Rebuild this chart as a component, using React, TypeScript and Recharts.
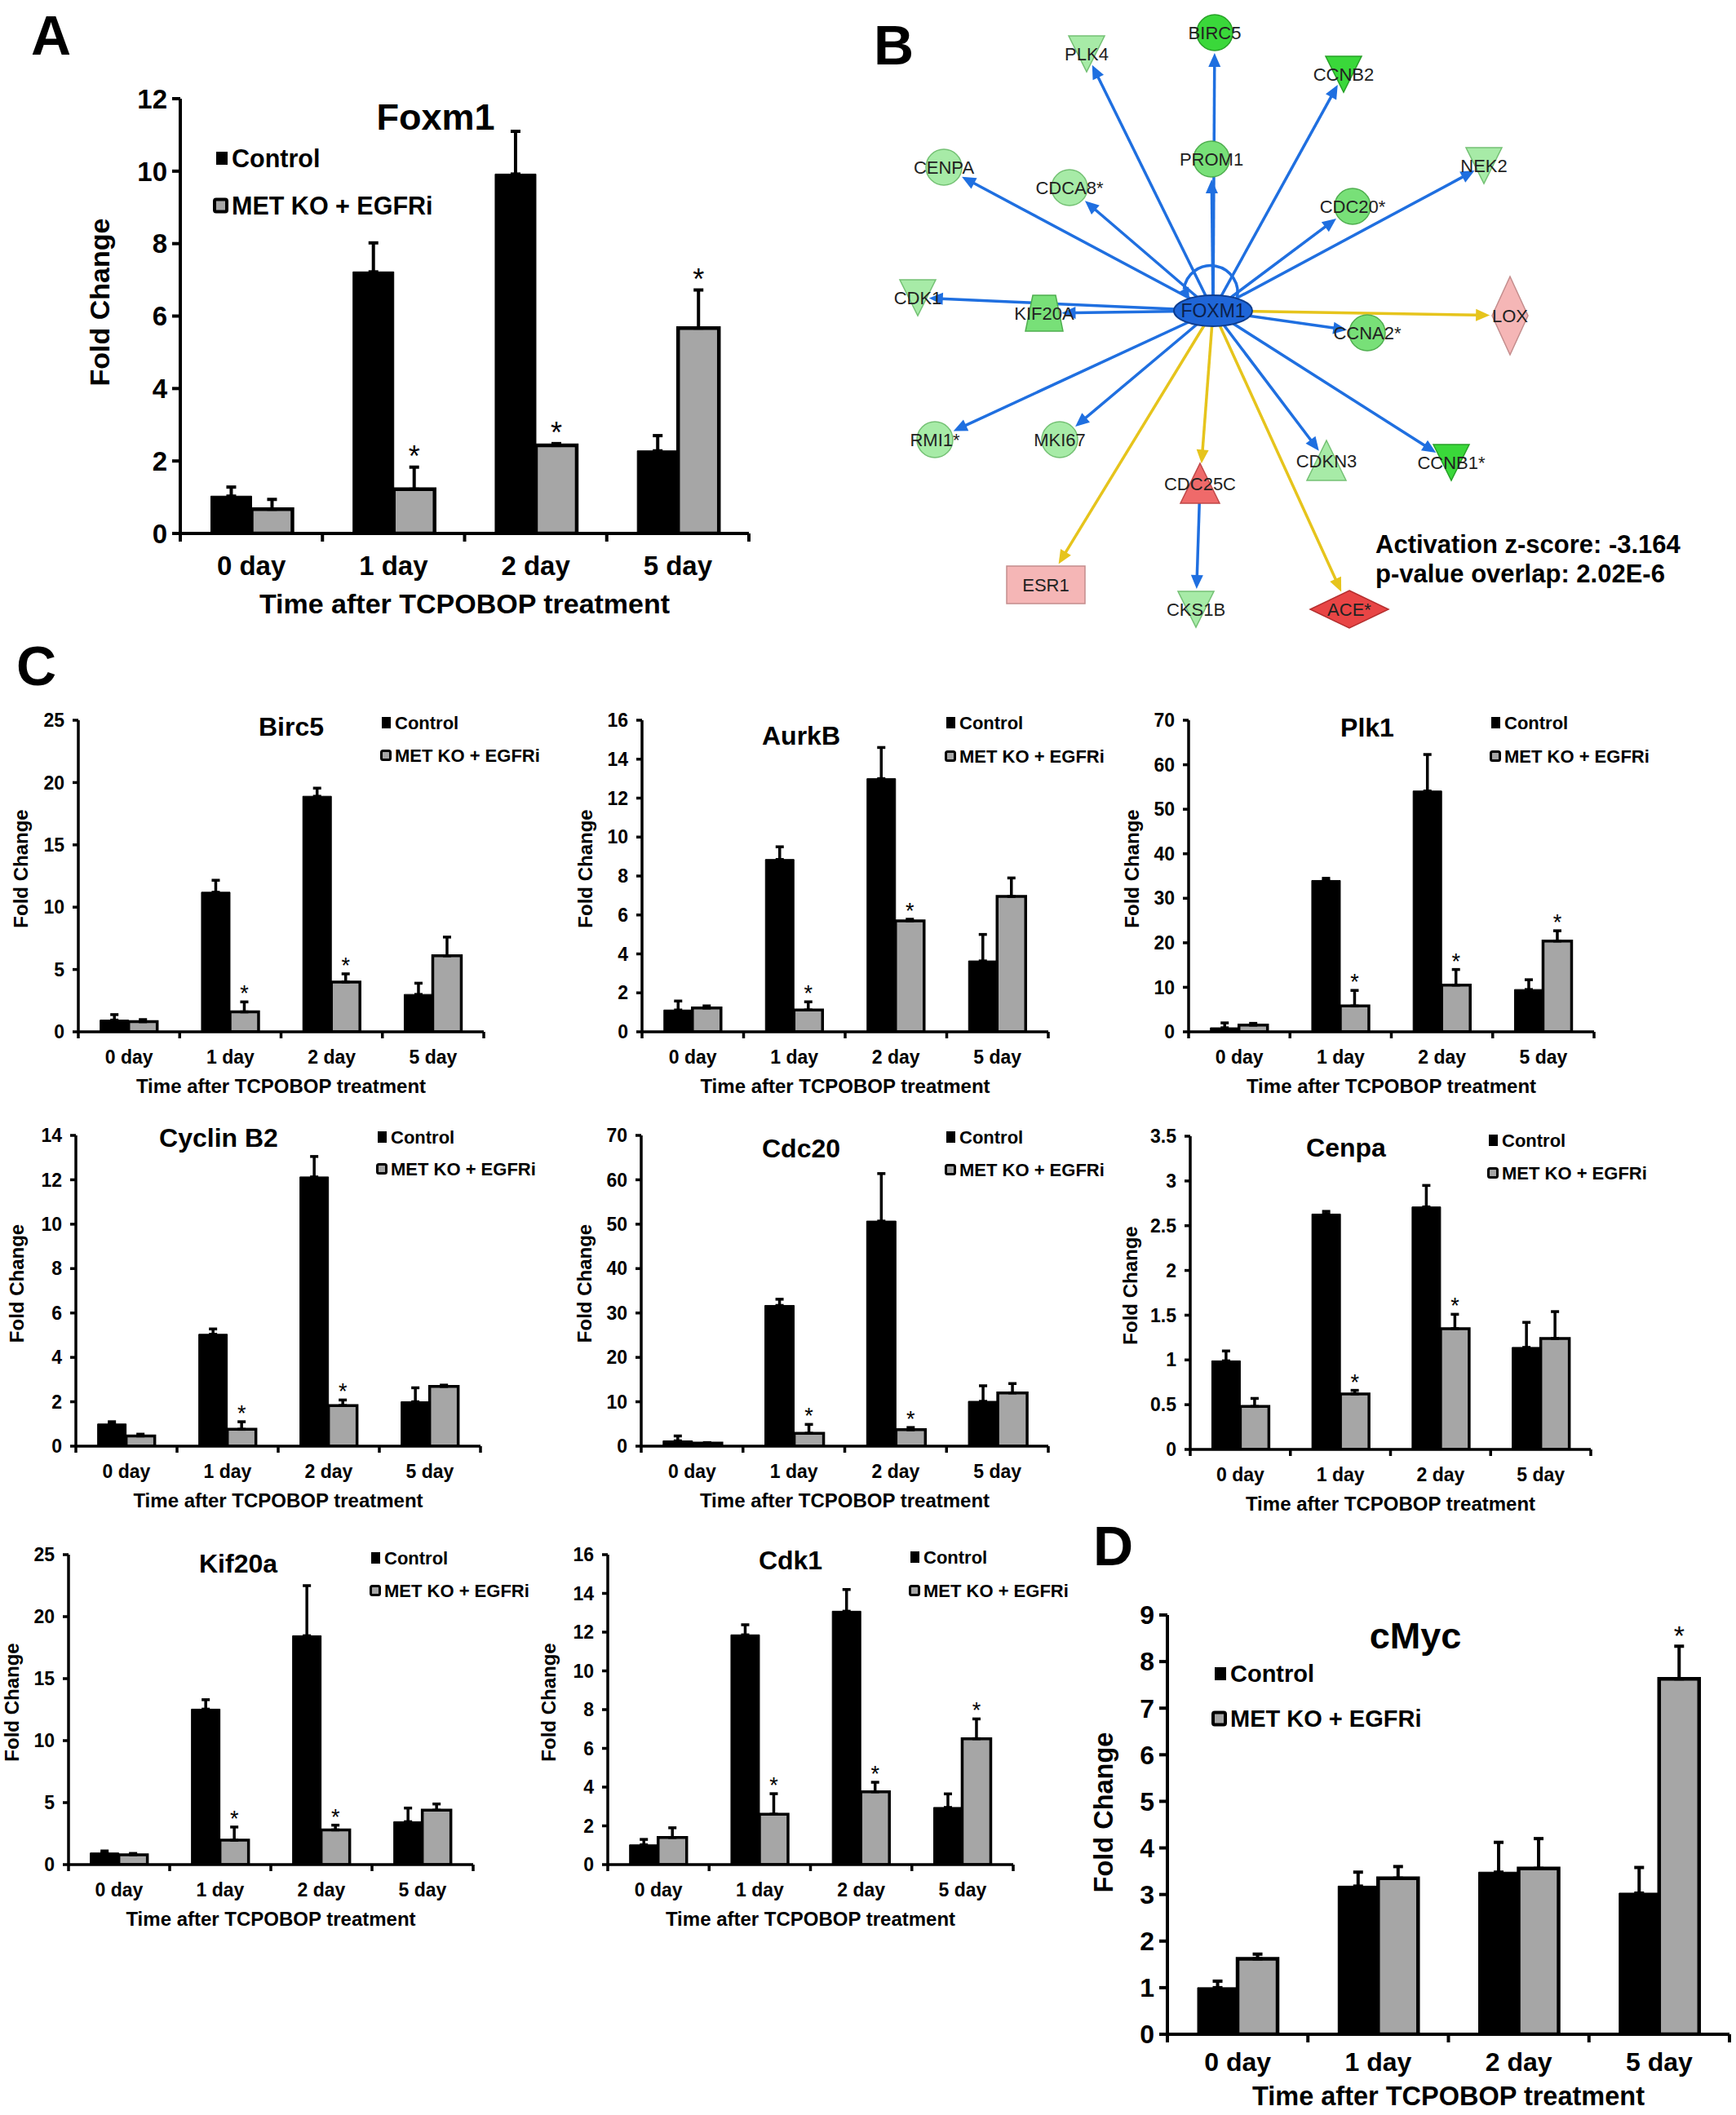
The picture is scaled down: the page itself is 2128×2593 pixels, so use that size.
import React from 'react';
import { BarChart, Bar, XAxis, YAxis, ErrorBar, LabelList, ScatterChart, Scatter, ReferenceLine } from 'recharts';

const FONT = '"Liberation Sans", Arial, Helvetica, sans-serif';
const GRAY = '#a6a6a6';

const DAYS = ['0 day', '1 day', '2 day', '5 day'];
const SERIES_NAMES = ['Control', 'MET KO + EGFRi'];
const X_TITLE = 'Time after TCPOBOP treatment';
const Y_TITLE = 'Fold Change';

// ---- Panel A: Foxm1 ----
const FOXM1_CONTROL = [1.03, 7.22, 9.92, 2.28];
const FOXM1_CONTROL_SEM = [0.25, 0.8, 1.18, 0.42];
const FOXM1_MET = [0.67, 1.22, 2.43, 5.67];
const FOXM1_MET_SEM = [0.27, 0.61, 0.05, 1.05];
const FOXM1_SIG = [false, true, true, true];
const FOXM1_TICKS = [0, 2, 4, 6, 8, 10, 12];

// ---- Panel C ----
const BIRC5_CONTROL = [0.94, 11.2, 18.9, 3.0];
const BIRC5_CONTROL_SEM = [0.44, 0.96, 0.65, 0.9];
const BIRC5_MET = [0.81, 1.6, 4.0, 6.1];
const BIRC5_MET_SEM = [0.17, 0.8, 0.65, 1.5];
const BIRC5_SIG = [false, true, true, false];
const BIRC5_TICKS = [0, 5, 10, 15, 20, 25];

const AURKB_CONTROL = [1.12, 8.85, 13.0, 3.64];
const AURKB_CONTROL_SEM = [0.46, 0.65, 1.6, 1.36];
const AURKB_MET = [1.22, 1.12, 5.7, 6.95];
const AURKB_MET_SEM = [0.11, 0.42, 0.08, 0.95];
const AURKB_SIG = [false, true, true, false];
const AURKB_TICKS = [0, 2, 4, 6, 8, 10, 12, 14, 16];

const PLK1_CONTROL = [0.9, 34.0, 54.1, 9.5];
const PLK1_CONTROL_SEM = [1.1, 0.5, 8.2, 2.2];
const PLK1_MET = [1.5, 5.8, 10.5, 20.4];
const PLK1_MET_SEM = [0.4, 3.5, 3.5, 2.3];
const PLK1_SIG = [false, true, true, true];
const PLK1_TICKS = [0, 10, 20, 30, 40, 50, 60, 70];

const CCNB2_CONTROL = [1.0, 5.04, 12.13, 2.0];
const CCNB2_CONTROL_SEM = [0.1, 0.24, 0.92, 0.63];
const CCNB2_MET = [0.46, 0.76, 1.83, 2.69];
const CCNB2_MET_SEM = [0.08, 0.34, 0.25, 0.06];
const CCNB2_SIG = [false, true, true, false];
const CCNB2_TICKS = [0, 2, 4, 6, 8, 10, 12, 14];

const CDC20_CONTROL = [1.2, 31.7, 50.7, 10.1];
const CDC20_CONTROL_SEM = [1.1, 1.4, 10.7, 3.5];
const CDC20_MET = [0.7, 2.9, 3.7, 12.0];
const CDC20_MET_SEM = [0.1, 2.0, 0.5, 2.1];
const CDC20_SIG = [false, true, true, false];
const CDC20_TICKS = [0, 10, 20, 30, 40, 50, 60, 70];

const CENPA_CONTROL = [0.99, 2.63, 2.71, 1.14];
const CENPA_CONTROL_SEM = [0.11, 0.03, 0.24, 0.28];
const CENPA_MET = [0.48, 0.62, 1.35, 1.24];
const CENPA_MET_SEM = [0.09, 0.04, 0.16, 0.3];
const CENPA_SIG = [false, true, true, false];
const CENPA_TICKS = [0, 0.5, 1, 1.5, 2, 2.5, 3, 3.5];

const KIF20A_CONTROL = [0.94, 12.54, 18.46, 3.46];
const KIF20A_CONTROL_SEM = [0.16, 0.76, 4.04, 1.1];
const KIF20A_MET = [0.79, 1.97, 2.8, 4.39];
const KIF20A_MET_SEM = [0.11, 1.06, 0.38, 0.5];
const KIF20A_SIG = [false, true, true, false];
const KIF20A_TICKS = [0, 5, 10, 15, 20, 25];

const CDK1_CONTROL = [1.02, 11.86, 13.08, 2.95];
const CDK1_CONTROL_SEM = [0.28, 0.52, 1.12, 0.7];
const CDK1_MET = [1.4, 2.6, 3.76, 6.5];
const CDK1_MET_SEM = [0.5, 1.06, 0.49, 1.02];
const CDK1_SIG = [false, true, true, true];
const CDK1_TICKS = [0, 2, 4, 6, 8, 10, 12, 14, 16];

// ---- Panel D: cMyc ----
const CMYC_CONTROL = [1.0, 3.18, 3.48, 3.03];
const CMYC_CONTROL_SEM = [0.14, 0.3, 0.64, 0.55];
const CMYC_MET = [1.62, 3.35, 3.56, 7.63];
const CMYC_MET_SEM = [0.1, 0.25, 0.64, 0.7];
const CMYC_SIG = [false, false, false, true];
const CMYC_TICKS = [0, 1, 2, 3, 4, 5, 6, 7, 8, 9];

// ---- Panel B: network (layout coordinates, molecule type, expression level) ----
const NET_NODES = [
  { id: 'FOXM1', x: 429, y: 381, type: 'transcription regulator', level: 'center' },
  { id: 'BIRC5', x: 431, y: 40, type: 'other', level: 'down3' },
  { id: 'PLK4', x: 274, y: 66, type: 'kinase', level: 'down1' },
  { id: 'CCNB2', x: 589, y: 91, type: 'kinase', level: 'down3' },
  { id: 'PROM1', x: 427, y: 195, type: 'other', level: 'down2' },
  { id: 'CENPA', x: 99, y: 205, type: 'other', level: 'down1' },
  { id: 'CDCA8*', x: 253, y: 230, type: 'other', level: 'down1' },
  { id: 'CDC20*', x: 600, y: 253, type: 'other', level: 'down2' },
  { id: 'NEK2', x: 761, y: 203, type: 'kinase', level: 'down1' },
  { id: 'CDK1', x: 67, y: 365, type: 'kinase', level: 'down1' },
  { id: 'KIF20A', x: 222, y: 384, type: 'transporter', level: 'down2' },
  { id: 'CCNA2*', x: 618, y: 408, type: 'other', level: 'down2' },
  { id: 'LOX', x: 793, y: 387, type: 'enzyme', level: 'up1' },
  { id: 'RMI1*', x: 88, y: 539, type: 'other', level: 'down1' },
  { id: 'MKI67', x: 241, y: 539, type: 'other', level: 'down1' },
  { id: 'CDC25C', x: 413, y: 593, type: 'phosphatase', level: 'up2' },
  { id: 'CDKN3', x: 568, y: 565, type: 'phosphatase', level: 'down1' },
  { id: 'CCNB1*', x: 721, y: 567, type: 'kinase', level: 'down3' },
  { id: 'ESR1', x: 224, y: 717, type: 'ligand-dependent nuclear receptor', level: 'up1' },
  { id: 'CKS1B', x: 408, y: 747, type: 'kinase', level: 'down1' },
  { id: 'ACE*', x: 596, y: 747, type: 'peptidase', level: 'up3' },
];
const NET_EDGES: [string, string, string][] = [
  ['FOXM1', 'FOXM1', 'inhibition'],
  ['FOXM1', 'BIRC5', 'inhibition'],
  ['FOXM1', 'PLK4', 'inhibition'],
  ['FOXM1', 'CCNB2', 'inhibition'],
  ['FOXM1', 'PROM1', 'inhibition'],
  ['FOXM1', 'CENPA', 'inhibition'],
  ['FOXM1', 'CDCA8*', 'inhibition'],
  ['FOXM1', 'CDC20*', 'inhibition'],
  ['FOXM1', 'NEK2', 'inhibition'],
  ['FOXM1', 'CDK1', 'inhibition'],
  ['FOXM1', 'KIF20A', 'inhibition'],
  ['FOXM1', 'CCNA2*', 'inhibition'],
  ['FOXM1', 'RMI1*', 'inhibition'],
  ['FOXM1', 'MKI67', 'inhibition'],
  ['FOXM1', 'CDKN3', 'inhibition'],
  ['FOXM1', 'CCNB1*', 'inhibition'],
  ['FOXM1', 'LOX', 'inconsistent'],
  ['FOXM1', 'ESR1', 'inconsistent'],
  ['FOXM1', 'CDC25C', 'inconsistent'],
  ['FOXM1', 'ACE*', 'inconsistent'],
  ['CDC25C', 'CKS1B', 'inhibition'],
];
const NET_STATS = ['Activation z-score: -3.164', 'p-value overlap: 2.02E-6'];

// ---------------- styles ----------------
type Sizes = {
  tick: number; axisLabel: number; title: number; legend: number; star: number;
  axisStroke: number; barStroke: number; errStroke: number; errHalf: number;
  yTickLen: number; yTickGap: number; xTickLen: number; xTickBase: number; xLabelBase: number;
  ctrlW: number; ctrlH: number; metM: number; metMS: number;
};
const SIZE_A: Sizes = {
  tick: 33, axisLabel: 34, title: 45, legend: 30.5, star: 36,
  axisStroke: 4, barStroke: 4.5, errStroke: 4, errHalf: 6,
  yTickLen: 10, yTickGap: 6, xTickLen: 10, xTickBase: 51, xLabelBase: 98,
  ctrlW: 14, ctrlH: 16, metM: 19, metMS: 4,
};
const SIZE_D: Sizes = {
  tick: 32, axisLabel: 32.5, title: 45, legend: 29, star: 34,
  axisStroke: 4, barStroke: 4.5, errStroke: 4, errHalf: 6,
  yTickLen: 10, yTickGap: 6, xTickLen: 10, xTickBase: 45, xLabelBase: 87,
  ctrlW: 14, ctrlH: 16, metM: 19, metMS: 4,
};
const SIZE_C: Sizes = {
  tick: 23, axisLabel: 24, title: 32, legend: 22, star: 27,
  axisStroke: 3.5, barStroke: 3.5, errStroke: 3.5, errHalf: 5,
  yTickLen: 7, yTickGap: 10, xTickLen: 8, xTickBase: 39, xLabelBase: 75,
  ctrlW: 11, ctrlH: 14, metM: 14, metMS: 3,
};

type Layout = {
  axisX: number; topY: number; rightX: number; zeroY: number;
  titleX: number; titleY: number; legendX: number; legendY1: number; legendY2: number;
  yLabelX: number; yLabelDy: number;
};

type GeneProps = {
  title: string; ctrl: number[]; ctrlSem: number[]; met: number[]; metSem: number[];
  sig: boolean[]; ticks: number[]; L: Layout; s: Sizes;
};

function GeneChart({ title, ctrl, ctrlSem, met, metSem, sig, ticks, L, s }: GeneProps) {
  const YW = Math.round(L.axisX - L.yLabelX + 30);
  const MT = 32;
  const MR = 14;
  const XH = s.xLabelBase + 16;
  const plotW = L.rightX - L.axisX;
  const plotH = L.zeroY - L.topY;
  const W = YW + plotW + MR;
  const H = MT + plotH + XH;
  const left = L.axisX - YW;
  const top = L.topY - MT;
  const rows = DAYS.map((day, i) => ({ day, c: ctrl[i], m: met[i], cE: [0, ctrlSem[i]], mE: [0, metSem[i]] }));
  const yMax = ticks[ticks.length - 1];

  const xTick = (p: any) => {
    const x = Number(p.x);
    const y = Number(p.y);
    const off = p.payload && typeof p.payload.offset === 'number' && p.payload.offset > 0 ? p.payload.offset : plotW / 8;
    return (
      <g>
        {p.index === 0 ? (
          <line x1={x - off} x2={x - off} y1={y} y2={y + s.xTickLen} stroke="#000" strokeWidth={s.axisStroke} />
        ) : null}
        <line x1={x + off} x2={x + off} y1={y} y2={y + s.xTickLen} stroke="#000" strokeWidth={s.axisStroke} />
        <text x={x} y={y + s.xTickBase} textAnchor="middle" fontSize={s.tick} fontFamily={FONT} fontWeight={700} fill="#000">
          {p.payload ? p.payload.value : ''}
        </text>
      </g>
    );
  };

  const yLabel = () => {
    const cx = YW - (L.axisX - L.yLabelX);
    const cy = MT + plotH / 2 + L.yLabelDy;
    return (
      <text x={cx} y={cy} transform={`rotate(-90 ${cx} ${cy})`} textAnchor="middle" dominantBaseline="central"
        fontSize={s.axisLabel} fontFamily={FONT} fontWeight={700} fill="#000">{Y_TITLE}</text>
    );
  };
  const xLabel = () => (
    <text x={YW + plotW / 2} y={MT + plotH + s.xLabelBase} textAnchor="middle"
      fontSize={s.axisLabel} fontFamily={FONT} fontWeight={700} fill="#000">{X_TITLE}</text>
  );

  const star = (p: any) => {
    const vb = p.viewBox && typeof p.viewBox.x === 'number' ? p.viewBox : p;
    const i = typeof p.index === 'number' ? p.index : met.indexOf(Number(p.value));
    if (i < 0 || !sig[i]) return null;
    const h = Math.abs(Number(vb.height));
    const yTop = Math.min(Number(vb.y), Number(vb.y) + Number(vb.height));
    const errPx = met[i] > 0 ? (metSem[i] * h) / met[i] : 0;
    return (
      <text x={Number(vb.x) + Number(vb.width) / 2} y={yTop - errPx - 1} textAnchor="middle"
        fontSize={s.star} fontFamily={FONT} fill="#000">*</text>
    );
  };

  const lx = L.legendX - left;
  const ly1 = L.legendY1 - top;
  const ly2 = L.legendY2 - top;

  return (
    <div style={{ position: 'absolute', left, top, width: W, height: H }}>
      <BarChart width={W} height={H} data={rows} margin={{ top: MT, right: MR, left: 0, bottom: 0 }}
        barGap={0} barCategoryGap="21.5%">
        <XAxis dataKey="day" type="category" height={XH} interval={0} tickSize={0} tickMargin={0}
          tickLine={false} axisLine={{ stroke: '#000', strokeWidth: s.axisStroke }} tick={xTick} label={xLabel} />
        <YAxis type="number" width={YW} domain={[0, yMax]} ticks={ticks} interval={0} allowDataOverflow
          tickSize={s.yTickLen} tickMargin={s.yTickGap}
          tickLine={{ stroke: '#000', strokeWidth: s.axisStroke }}
          axisLine={{ stroke: '#000', strokeWidth: s.axisStroke }}
          tick={{ fill: '#000', fontSize: s.tick, fontWeight: 700, fontFamily: FONT }} label={yLabel} />
        <Bar dataKey="c" name={SERIES_NAMES[0]} fill="#000" stroke="#000" strokeWidth={1} isAnimationActive={false}>
          <ErrorBar dataKey="cE" direction="y" width={s.errHalf} stroke="#000" strokeWidth={s.errStroke} isAnimationActive={false} />
        </Bar>
        <Bar dataKey="m" name={SERIES_NAMES[1]} fill={GRAY} stroke="#000" strokeWidth={s.barStroke} isAnimationActive={false}>
          <ErrorBar dataKey="mE" direction="y" width={s.errHalf} stroke="#000" strokeWidth={s.errStroke} isAnimationActive={false} />
          <LabelList dataKey="m" content={star} />
        </Bar>
      </BarChart>
      <svg width={W} height={H} style={{ position: 'absolute', left: 0, top: 0, overflow: 'visible', pointerEvents: 'none' }}>
        <text x={L.titleX - left} y={L.titleY - top + 0.358 * s.title} textAnchor="middle" fontSize={s.title}
          fontFamily={FONT} fontWeight={700} fill="#000">{title}</text>
        <rect x={lx - 5 - s.ctrlW} y={ly1 - s.ctrlH / 2} width={s.ctrlW} height={s.ctrlH} fill="#000" />
        <text x={lx} y={ly1 + 0.358 * s.legend} fontSize={s.legend} fontFamily={FONT} fontWeight={700} fill="#000">{SERIES_NAMES[0]}</text>
        <rect x={lx - 4 - s.metM + s.metMS / 2} y={ly2 - s.metM / 2 + s.metMS / 2} width={s.metM - s.metMS} height={s.metM - s.metMS}
          rx={2} fill={GRAY} stroke="#000" strokeWidth={s.metMS} />
        <text x={lx} y={ly2 + 0.358 * s.legend} fontSize={s.legend} fontFamily={FONT} fontWeight={700} fill="#000">{SERIES_NAMES[1]}</text>
      </svg>
    </div>
  );
}

// ---------------- network ----------------
type Shape =
  | { kind: 'circle'; r: number }
  | { kind: 'ellipse'; rx: number; ry: number }
  | { kind: 'poly'; pts: [number, number][] };

const SHAPES: Record<string, Shape> = {
  other: { kind: 'circle', r: 22 },
  'transcription regulator': { kind: 'ellipse', rx: 48, ry: 19 },
  kinase: { kind: 'poly', pts: [[-22, -22], [22, -22], [0, 22]] },
  phosphatase: { kind: 'poly', pts: [[0, -25], [24, 24], [-24, 24]] },
  enzyme: { kind: 'poly', pts: [[0, -48], [22, 0], [0, 48], [-22, 0]] },
  peptidase: { kind: 'poly', pts: [[0, -23], [48, 0], [0, 23], [-48, 0]] },
  'ligand-dependent nuclear receptor': { kind: 'poly', pts: [[-48, -23], [48, -23], [48, 23], [-48, 23]] },
  transporter: { kind: 'poly', pts: [[-14, -22], [14, -22], [23, 22], [-23, 22]] },
};

const LEVEL_COLORS: Record<string, { fill: string; stroke: string; text: string }> = {
  center: { fill: '#1f66d8', stroke: '#0e3d8f', text: '#0b1f4a' },
  down1: { fill: '#a7eba7', stroke: '#74c174', text: '#222' },
  down2: { fill: '#78e078', stroke: '#4fae4f', text: '#222' },
  down3: { fill: '#3ad83a', stroke: '#27a127', text: '#222' },
  up1: { fill: '#f5b6b6', stroke: '#c48d8d', text: '#222' },
  up2: { fill: '#ef6a6a', stroke: '#c04848', text: '#222' },
  up3: { fill: '#e84545', stroke: '#b52f2f', text: '#222' },
};
const EDGE_COLORS: Record<string, string> = { inhibition: '#1f6fe0', inconsistent: '#e6c41c' };

function boundaryDist(type: string, dx: number, dy: number): number {
  const sh = SHAPES[type];
  if (sh.kind === 'circle') return sh.r;
  if (sh.kind === 'ellipse') return 1 / Math.sqrt((dx / sh.rx) ** 2 + (dy / sh.ry) ** 2);
  let best = Infinity;
  const pts = sh.pts;
  for (let k = 0; k < pts.length; k++) {
    const [ax, ay] = pts[k];
    const [bx, by] = pts[(k + 1) % pts.length];
    const ex = bx - ax;
    const ey = by - ay;
    const den = dx * ey - dy * ex;
    if (Math.abs(den) < 1e-9) continue;
    const t = (ax * ey - ay * ex) / den;
    const u = (ax * dy - ay * dx) / den;
    if (t > 0 && u >= -1e-6 && u <= 1 + 1e-6) best = Math.min(best, t);
  }
  return best === Infinity ? 20 : best;
}

const NET_W = 1070;
const NET_H = 790;
const nodeById = (id: string) => NET_NODES.find((n) => n.id === id)!;
const SELF_LOOPS = NET_EDGES.filter((e) => e[0] === e[1]);

function edgeShape(toType: string, color: string) {
  return (p: any) => {
    const x1 = Number(p.x1), y1 = Number(p.y1), x2 = Number(p.x2), y2 = Number(p.y2);
    const len = Math.hypot(x2 - x1, y2 - y1) || 1;
    const ux = (x2 - x1) / len;
    const uy = (y2 - y1) / len;
    const pad = boundaryDist(toType, -ux, -uy) + 3;
    const tx = x2 - ux * pad;
    const ty = y2 - uy * pad;
    const AL = 17;
    const AW = 7.5;
    const bx = tx - ux * AL;
    const by = ty - uy * AL;
    const px = -uy;
    const py = ux;
    return (
      <g>
        <line x1={x1} y1={y1} x2={bx + ux * 2} y2={by + uy * 2} stroke={color} strokeWidth={3.5} />
        <polygon points={`${tx},${ty} ${bx + px * AW},${by + py * AW} ${bx - px * AW},${by - py * AW}`} fill={color} />
      </g>
    );
  };
}

const nodeShape = (p: any) => {
  const n = p.payload;
  const cx = Number(p.cx);
  const cy = Number(p.cy);
  const sh = SHAPES[n.type];
  const col = LEVEL_COLORS[n.level];
  let body: React.ReactNode = null;
  if (sh.kind === 'circle') body = <circle cx={cx} cy={cy} r={sh.r} fill={col.fill} stroke={col.stroke} strokeWidth={1.5} />;
  else if (sh.kind === 'ellipse') body = <ellipse cx={cx} cy={cy} rx={sh.rx} ry={sh.ry} fill={col.fill} stroke={col.stroke} strokeWidth={2} />;
  else body = <polygon points={sh.pts.map(([a, b]) => `${cx + a},${cy + b}`).join(' ')} fill={col.fill} stroke={col.stroke} strokeWidth={1.5} />;
  const loop = SELF_LOOPS.find((e) => e[0] === n.id);
  let loopEl: React.ReactNode = null;
  if (loop) {
    const c = EDGE_COLORS[loop[2]];
    // arc over the top of the node, ending with an arrowhead at its left foot
    const r = 33;
    const ex = cx - 29, ey = cy - 14;
    const sx = cx + 29, sy = cy - 14;
    const ccx = cx, ccy = cy - 14 - Math.sqrt(r * r - 29 * 29);
    const rx = ex - ccx, ry = ey - ccy;
    const rl = Math.hypot(rx, ry);
    let ux = -ry / rl, uy = rx / rl;
    if (uy < 0) { ux = -ux; uy = -uy; }
    const bx = ex - ux * 14, by = ey - uy * 14;
    loopEl = (
      <g>
        <path d={`M ${sx} ${sy} A ${r} ${r} 0 1 0 ${bx} ${by}`} fill="none" stroke={c} strokeWidth={3.5} />
        <polygon points={`${ex},${ey} ${bx - uy * 6.5},${by + ux * 6.5} ${bx + uy * 6.5},${by - ux * 6.5}`} fill={c} />
      </g>
    );
  }
  return (
    <g>
      {loopEl}
      {body}
      <text x={cx} y={cy} textAnchor="middle" dominantBaseline="central" fontSize={n.level === 'center' ? 23 : 22}
        fontFamily={FONT} fill={col.text}>{n.id}</text>
    </g>
  );
};

function NetworkPanel() {
  const edges = NET_EDGES.filter((e) => e[0] !== e[1]);
  return (
    <div style={{ position: 'absolute', left: 1058, top: 0, width: NET_W, height: NET_H }}>
      <ScatterChart width={NET_W} height={NET_H} margin={{ top: 0, right: 0, bottom: 0, left: 0 }}>
        <XAxis type="number" dataKey="x" domain={[0, NET_W]} hide allowDataOverflow />
        <YAxis type="number" dataKey="y" domain={[0, NET_H]} reversed hide allowDataOverflow />
        {edges.map(([from, to, kind], i) => {
          const a = nodeById(from);
          const b = nodeById(to);
          return (
            <ReferenceLine key={`e${i}`} segment={[{ x: a.x, y: a.y }, { x: b.x, y: b.y }]} ifOverflow="visible"
              stroke={EDGE_COLORS[kind]} shape={edgeShape(b.type, EDGE_COLORS[kind])} />
          );
        })}
        <Scatter data={NET_NODES} shape={nodeShape} isAnimationActive={false} />
      </ScatterChart>
    </div>
  );
}

// ---------------- layouts ----------------
const L_A: Layout = { axisX: 221, topY: 121, rightX: 918, zeroY: 654, titleX: 534, titleY: 143, legendX: 284, legendY1: 194, legendY2: 252, yLabelX: 122, yLabelDy: -17 };
const L_BIRC5: Layout = { axisX: 96, topY: 883, rightX: 593, zeroY: 1265, titleX: 357, titleY: 891, legendX: 484, legendY1: 886, legendY2: 926, yLabelX: 25, yLabelDy: -9 };
const L_AURKB: Layout = { axisX: 787, topY: 883, rightX: 1285, zeroY: 1265, titleX: 982, titleY: 902, legendX: 1176, legendY1: 886, legendY2: 927, yLabelX: 717, yLabelDy: -9 };
const L_PLK1: Layout = { axisX: 1457, topY: 883, rightX: 1954, zeroY: 1265, titleX: 1676, titleY: 892, legendX: 1844, legendY1: 886, legendY2: 927, yLabelX: 1387, yLabelDy: -9 };
const L_CCNB2: Layout = { axisX: 93, topY: 1392, rightX: 589, zeroY: 1773, titleX: 268, titleY: 1395, legendX: 479, legendY1: 1394, legendY2: 1433, yLabelX: 20, yLabelDy: -9 };
const L_CDC20: Layout = { axisX: 786, topY: 1392, rightX: 1285, zeroY: 1773, titleX: 982, titleY: 1408, legendX: 1176, legendY1: 1394, legendY2: 1434, yLabelX: 716, yLabelDy: -9 };
const L_CENPA: Layout = { axisX: 1459, topY: 1393, rightX: 1950, zeroY: 1777, titleX: 1650, titleY: 1407, legendX: 1841, legendY1: 1398, legendY2: 1438, yLabelX: 1385, yLabelDy: -9 };
const L_KIF20A: Layout = { axisX: 84, topY: 1906, rightX: 580, zeroY: 2286, titleX: 292, titleY: 1917, legendX: 471, legendY1: 1910, legendY2: 1950, yLabelX: 14, yLabelDy: -9 };
const L_CDK1: Layout = { axisX: 745, topY: 1906, rightX: 1242, zeroY: 2286, titleX: 969, titleY: 1913, legendX: 1132, legendY1: 1909, legendY2: 1950, yLabelX: 672, yLabelDy: -9 };
const L_D: Layout = { axisX: 1431, topY: 1980, rightX: 2120, zeroY: 2494, titleX: 1735, titleY: 2005, legendX: 1508, legendY1: 2052, legendY2: 2107, yLabelX: 1353, yLabelDy: -15 };

export default function App() {
  return (
    <div style={{ position: 'absolute', left: 0, top: 0, width: 2128, height: 2593, background: '#fff', overflow: 'hidden' }}>
      <GeneChart title="Foxm1" ctrl={FOXM1_CONTROL} ctrlSem={FOXM1_CONTROL_SEM} met={FOXM1_MET} metSem={FOXM1_MET_SEM} sig={FOXM1_SIG} ticks={FOXM1_TICKS} L={L_A} s={SIZE_A} />
      <NetworkPanel />
      <GeneChart title="Birc5" ctrl={BIRC5_CONTROL} ctrlSem={BIRC5_CONTROL_SEM} met={BIRC5_MET} metSem={BIRC5_MET_SEM} sig={BIRC5_SIG} ticks={BIRC5_TICKS} L={L_BIRC5} s={SIZE_C} />
      <GeneChart title="AurkB" ctrl={AURKB_CONTROL} ctrlSem={AURKB_CONTROL_SEM} met={AURKB_MET} metSem={AURKB_MET_SEM} sig={AURKB_SIG} ticks={AURKB_TICKS} L={L_AURKB} s={SIZE_C} />
      <GeneChart title="Plk1" ctrl={PLK1_CONTROL} ctrlSem={PLK1_CONTROL_SEM} met={PLK1_MET} metSem={PLK1_MET_SEM} sig={PLK1_SIG} ticks={PLK1_TICKS} L={L_PLK1} s={SIZE_C} />
      <GeneChart title="Cyclin B2" ctrl={CCNB2_CONTROL} ctrlSem={CCNB2_CONTROL_SEM} met={CCNB2_MET} metSem={CCNB2_MET_SEM} sig={CCNB2_SIG} ticks={CCNB2_TICKS} L={L_CCNB2} s={SIZE_C} />
      <GeneChart title="Cdc20" ctrl={CDC20_CONTROL} ctrlSem={CDC20_CONTROL_SEM} met={CDC20_MET} metSem={CDC20_MET_SEM} sig={CDC20_SIG} ticks={CDC20_TICKS} L={L_CDC20} s={SIZE_C} />
      <GeneChart title="Cenpa" ctrl={CENPA_CONTROL} ctrlSem={CENPA_CONTROL_SEM} met={CENPA_MET} metSem={CENPA_MET_SEM} sig={CENPA_SIG} ticks={CENPA_TICKS} L={L_CENPA} s={SIZE_C} />
      <GeneChart title="Kif20a" ctrl={KIF20A_CONTROL} ctrlSem={KIF20A_CONTROL_SEM} met={KIF20A_MET} metSem={KIF20A_MET_SEM} sig={KIF20A_SIG} ticks={KIF20A_TICKS} L={L_KIF20A} s={SIZE_C} />
      <GeneChart title="Cdk1" ctrl={CDK1_CONTROL} ctrlSem={CDK1_CONTROL_SEM} met={CDK1_MET} metSem={CDK1_MET_SEM} sig={CDK1_SIG} ticks={CDK1_TICKS} L={L_CDK1} s={SIZE_C} />
      <GeneChart title="cMyc" ctrl={CMYC_CONTROL} ctrlSem={CMYC_CONTROL_SEM} met={CMYC_MET} metSem={CMYC_MET_SEM} sig={CMYC_SIG} ticks={CMYC_TICKS} L={L_D} s={SIZE_D} />
      <svg width={2128} height={2593} style={{ position: 'absolute', left: 0, top: 0, pointerEvents: 'none' }}>
        <text x={38} y={67} fontSize={68} fontFamily={FONT} fontWeight={700} fill="#000">A</text>
        <text x={1071} y={79} fontSize={68} fontFamily={FONT} fontWeight={700} fill="#000">B</text>
        <text x={20} y={840} fontSize={68} fontFamily={FONT} fontWeight={700} fill="#000">C</text>
        <text x={1340} y={1919} fontSize={68} fontFamily={FONT} fontWeight={700} fill="#000">D</text>
        <text x={1686} y={678} fontSize={31} fontFamily={FONT} fontWeight={700} fill="#000">{NET_STATS[0]}</text>
        <text x={1686} y={714} fontSize={31} fontFamily={FONT} fontWeight={700} fill="#000">{NET_STATS[1]}</text>
      </svg>
    </div>
  );
}
